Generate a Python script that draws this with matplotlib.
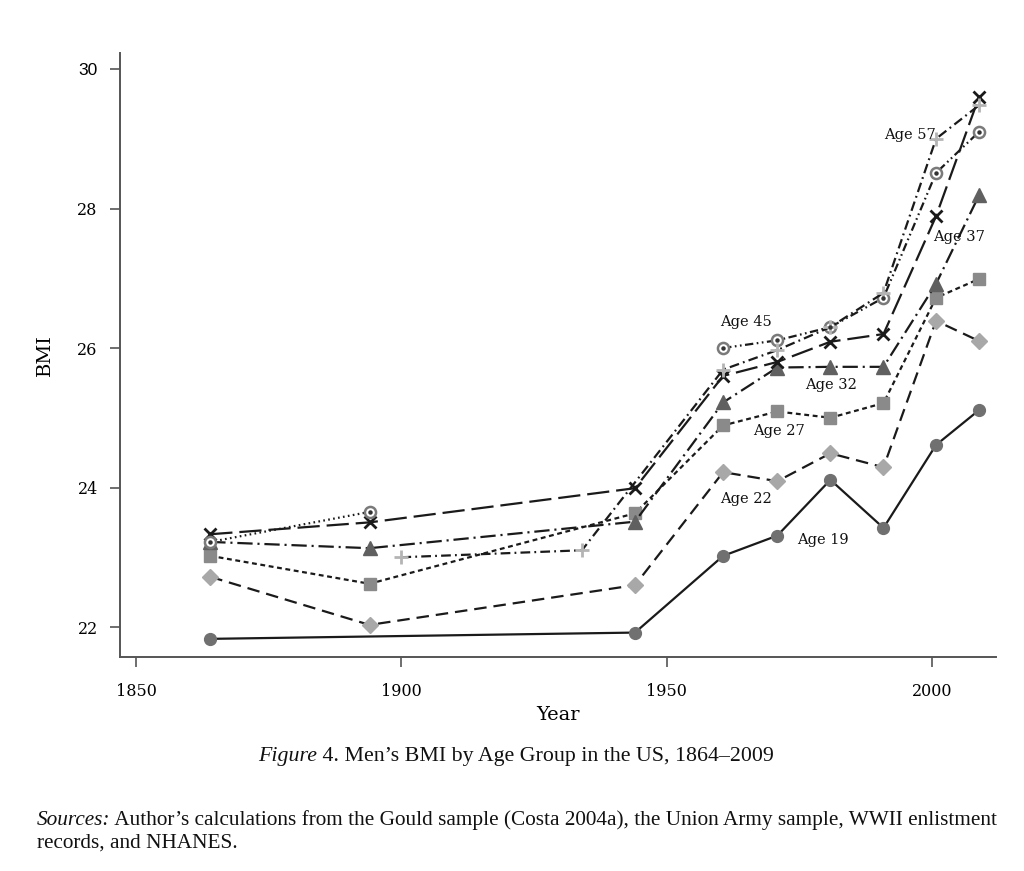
import numpy as np
import matplotlib
matplotlib.use("Agg")
import matplotlib.pyplot as plt

# ---------------- data ----------------
years = [1864, 1894, 1944, 1960.6, 1970.8, 1980.8, 1990.8, 2000.7, 2008.8]

age19_years = [1864, 1944, 1960.6, 1970.8, 1980.8, 1990.8, 2000.7, 2008.8]
age19_bmi = [21.83, 21.92, 23.02, 23.31, 24.11, 23.42, 24.61, 25.11]

age22_bmi = [22.72, 22.03, 22.60, 24.22, 24.09, 24.49, 24.29, 26.39, 26.10]
age27_bmi = [23.02, 22.62, 23.63, 24.89, 25.09, 25.00, 25.21, 26.72, 26.99]
age32_bmi = [23.22, 23.13, 23.51, 25.22, 25.72, 25.73, 25.73, 26.92, 28.19]
age37_bmi = [23.33, 23.50, 23.99, 25.60, 25.80, 26.09, 26.20, 27.89, 29.60]
age45_bmi = [23.22, 23.65, np.nan, 26.00, 26.11, 26.30, 26.72, 28.51, 29.10]

age57_years = [1900, 1934, 1960.6, 1970.8, 1980.8, 1990.8, 2000.7, 2008.8]
age57_bmi = [23.00, 23.10, 25.69, 25.97, 26.30, 26.79, 29.00, 29.48]

series_labels = ["Age 19", "Age 22", "Age 27", "Age 32", "Age 37", "Age 45", "Age 57"]
label_pos_x = [1979.4, 1964.9, 1971.2, 1981.0, 2005.0, 1964.9, 1995.8]
label_pos_y = [23.25, 23.84, 24.81, 25.47, 27.59, 26.37, 29.06]

xticks = [1850, 1900, 1950, 2000]
yticks = [22, 24, 26, 28, 30]

caption_italic = "Figure"
caption_rest = " 4. Men\u2019s BMI by Age Group in the US, 1864\u20132009"
sources_italic = "Sources:"
sources_line1 = " Author\u2019s calculations from the Gould sample (Costa 2004a), the Union Army sample, WWII enlistment"
sources_line2 = "records, and NHANES."

# ---------------- figure ----------------
plt.rcParams["lines.scale_dashes"] = False
SERIF = ["DejaVu Serif"]
CAP = ["Liberation Serif", "DejaVu Serif"]

fig = plt.figure(figsize=(10.24, 8.71), dpi=100)
ax = fig.add_axes([0.1172, 0.2457, 0.8555, 0.6935])

lw = 1.6
# Age 19
ax.plot(age19_years, age19_bmi, color="#1a1a1a", lw=lw, ls="-",
        marker="o", ms=8.5, mfc="#707070", mec="#707070", zorder=3)
# Age 22
ax.plot(years, age22_bmi, color="#1a1a1a", lw=lw, dashes=(9, 5),
        marker="D", ms=8, mfc="#a8a8a8", mec="#a8a8a8", zorder=3)
# Age 27
ax.plot(years, age27_bmi, color="#1a1a1a", lw=lw, dashes=(3.5, 2.6),
        marker="s", ms=8.5, mfc="#8a8a8a", mec="#8a8a8a", zorder=3)
# Age 32
ax.plot(years, age32_bmi, color="#1a1a1a", lw=lw, dashes=(11, 3.5, 1.5, 3.5),
        marker="^", ms=10, mfc="#606060", mec="#606060", zorder=3)
# Age 37
ax.plot(years, age37_bmi, color="#1a1a1a", lw=lw, dashes=(16, 5),
        marker="x", ms=8.5, mew=2, mfc="#1a1a1a", mec="#1a1a1a", zorder=4)
# Age 45 (dotted early segment, dash-dot-dot later)
ax.plot(years[:2], age45_bmi[:2], color="#1a1a1a", lw=lw, dashes=(1.2, 2.4), zorder=3)
ax.plot(years[3:], age45_bmi[3:], color="#1a1a1a", lw=lw,
        dashes=(6, 2.5, 1.2, 2.5, 1.2, 2.5), zorder=3)
ax.plot(years, age45_bmi, ls="none", marker="o", ms=8, mew=1.8,
        mfc="white", mec="#7a7a7a", zorder=4)
ax.plot(years, age45_bmi, ls="none", marker="o", ms=2.2,
        mfc="#333333", mec="#333333", zorder=5)
# Age 57
ax.plot(age57_years, age57_bmi, color="#1a1a1a", lw=lw, dashes=(7, 3, 1.3, 3),
        marker="+", ms=10, mew=2, mfc="#b4b4b4", mec="#b4b4b4", zorder=4)

for lab, lx, ly in zip(series_labels, label_pos_x, label_pos_y):
    ax.text(lx, ly, lab, ha="center", va="center", fontsize=10.5,
            family=SERIF, color="#111111", zorder=6)

ax.set_xlim(1847, 2012)
ax.set_ylim(21.57, 30.23)
ax.set_xticks(xticks)
ax.set_yticks(yticks)
ax.set_xticklabels([str(t) for t in xticks], family=SERIF, fontsize=11.5)
ax.set_yticklabels([str(t) for t in yticks], family=SERIF, fontsize=11.5)
for t in ax.get_yticklabels():
    if t.get_text() == "30":
        t.set_family(["Liberation Sans", "DejaVu Sans"])
        t.set_fontsize(12.5)
ax.tick_params(axis="both", direction="out", length=7, width=1.2,
               color="#555555")
ax.tick_params(axis="x", pad=12)
ax.tick_params(axis="y", pad=9)
for s in ["top", "right"]:
    ax.spines[s].set_visible(False)
for s in ["left", "bottom"]:
    ax.spines[s].set_color("#555555")
    ax.spines[s].set_linewidth(1.4)

ax.set_xlabel("Year", family=SERIF, fontsize=14, labelpad=4)
ax.set_ylabel("BMI", family=SERIF, fontsize=14, labelpad=17)

# ---------------- caption & sources ----------------
fig.canvas.draw()
r = fig.canvas.get_renderer()

def rich_line(x, y, parts, size):
    cur = x
    for txt, style in parts:
        t = fig.text(cur, y, txt, family=CAP, fontsize=size, style=style,
                     ha="left", va="center", color="#111111")
        bb = t.get_window_extent(renderer=r)
        cur += bb.width / fig.bbox.width
    return cur

cap_size = 15.75
tmp1 = fig.text(0, 0, caption_italic, family=CAP, fontsize=cap_size, style="italic")
tmp2 = fig.text(0, 0, caption_rest, family=CAP, fontsize=cap_size)
w = (tmp1.get_window_extent(r).width + tmp2.get_window_extent(r).width) / fig.bbox.width
tmp1.remove(); tmp2.remove()
rich_line(516 / 1024 - w / 2, 1 - 756 / 871,
          [(caption_italic, "italic"), (caption_rest, "normal")], cap_size)

src_size = 15.3
rich_line(37 / 1024, 1 - 820 / 871,
          [(sources_italic, "italic"), (sources_line1, "normal")], src_size)
rich_line(37 / 1024, 1 - 843 / 871, [(sources_line2, "normal")], src_size)

fig.savefig("out.png", dpi=100)
